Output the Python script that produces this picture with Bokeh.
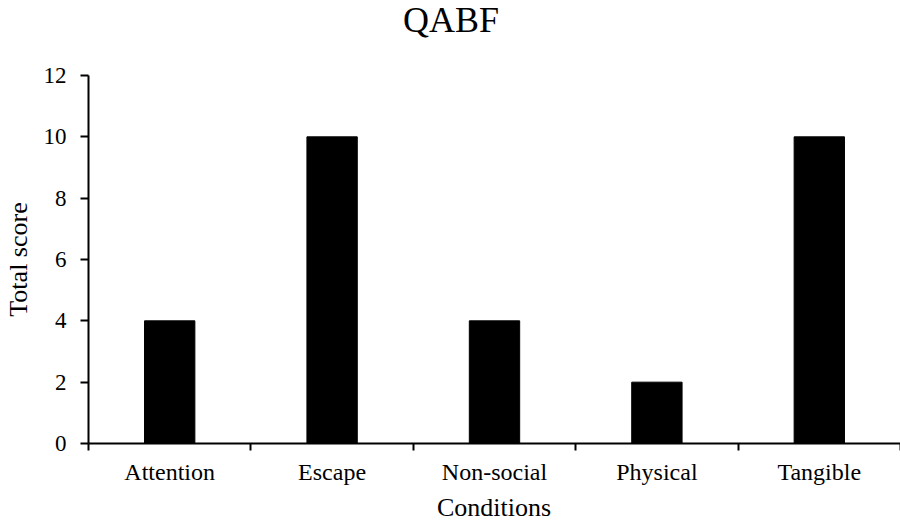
from bokeh.plotting import figure
from bokeh.models import Range1d, FixedTicker, Div
from bokeh.layouts import column
from bokeh.embed import file_html
from bokeh.resources import INLINE

categories = ["Attention", "Escape", "Non-social", "Physical", "Tangible"]
scores = [4, 10, 4, 2, 10]
y_ticks = [0, 2, 4, 6, 8, 10, 12]
title_text = "QABF"
x_label = "Conditions"
y_label = "Total score"

FONT = "Liberation Serif"
n = len(categories)
centers = [i + 0.5 for i in range(n)]
bounds = [float(i) for i in range(n + 1)]

W = 900
LEFT = 88
TITLE_H = 60
FIG_H = 428
XLAB_H = 36

title_div = Div(
    text=(f'<div style="font-family:\'{FONT}\',serif;font-size:36px;line-height:41px;'
          f'color:black;margin-left:403px;white-space:nowrap;">'
          f'{title_text}</div>'),
    width=W, height=TITLE_H, margin=0)

p = figure(width=W, height=FIG_H, output_backend="svg", toolbar_location=None,
           x_range=Range1d(0, n), y_range=Range1d(0, 12), margin=0,
           min_border_left=LEFT, min_border_right=0, min_border_top=15, min_border_bottom=45)

p.vbar(x=centers, top=scores, width=0.31, bottom=0, color="black", line_color="black")

p.xgrid.visible = False
p.ygrid.visible = False
p.outline_line_color = None

xa = p.xaxis[0]
xa.ticker = FixedTicker(ticks=centers, minor_ticks=bounds)
xa.major_label_overrides = {c: lab for c, lab in zip(centers, categories)}
xa.major_tick_out = 0
xa.major_tick_in = 0
xa.minor_tick_out = 7
xa.minor_tick_in = 0
xa.minor_tick_line_width = 2
xa.minor_tick_line_color = "black"
xa.axis_line_width = 2
xa.axis_line_color = "black"
xa.major_label_text_font = FONT
xa.major_label_text_font_size = "24px"
xa.major_label_text_color = "black"
xa.major_label_standoff = 8

ya = p.yaxis[0]
ya.ticker = FixedTicker(ticks=y_ticks, minor_ticks=[])
ya.major_tick_out = 8
ya.major_tick_in = 0
ya.major_tick_line_width = 2
ya.major_tick_line_color = "black"
ya.minor_tick_out = 0
ya.axis_line_width = 2
ya.axis_line_color = "black"
ya.major_label_text_font = FONT
ya.major_label_text_font_size = "23px"
ya.major_label_text_color = "black"
ya.major_label_standoff = 14
ya.axis_label = y_label
ya.axis_label_text_font = FONT
ya.axis_label_text_font_size = "26px"
ya.axis_label_text_font_style = "normal"
ya.axis_label_text_color = "black"
ya.axis_label_standoff = 8

xlabel_div = Div(
    text=(f'<div style="font-family:\'{FONT}\',serif;font-size:26px;line-height:26px;'
          f'color:black;padding-top:7px;margin-left:{LEFT}px;width:{W - LEFT}px;text-align:center;'
          f'white-space:nowrap;">{x_label}</div>'),
    width=W, height=XLAB_H, margin=0)

layout = column(title_div, p, xlabel_div, spacing=0, margin=0)
open("out.html", "w").write(file_html(layout, INLINE))
